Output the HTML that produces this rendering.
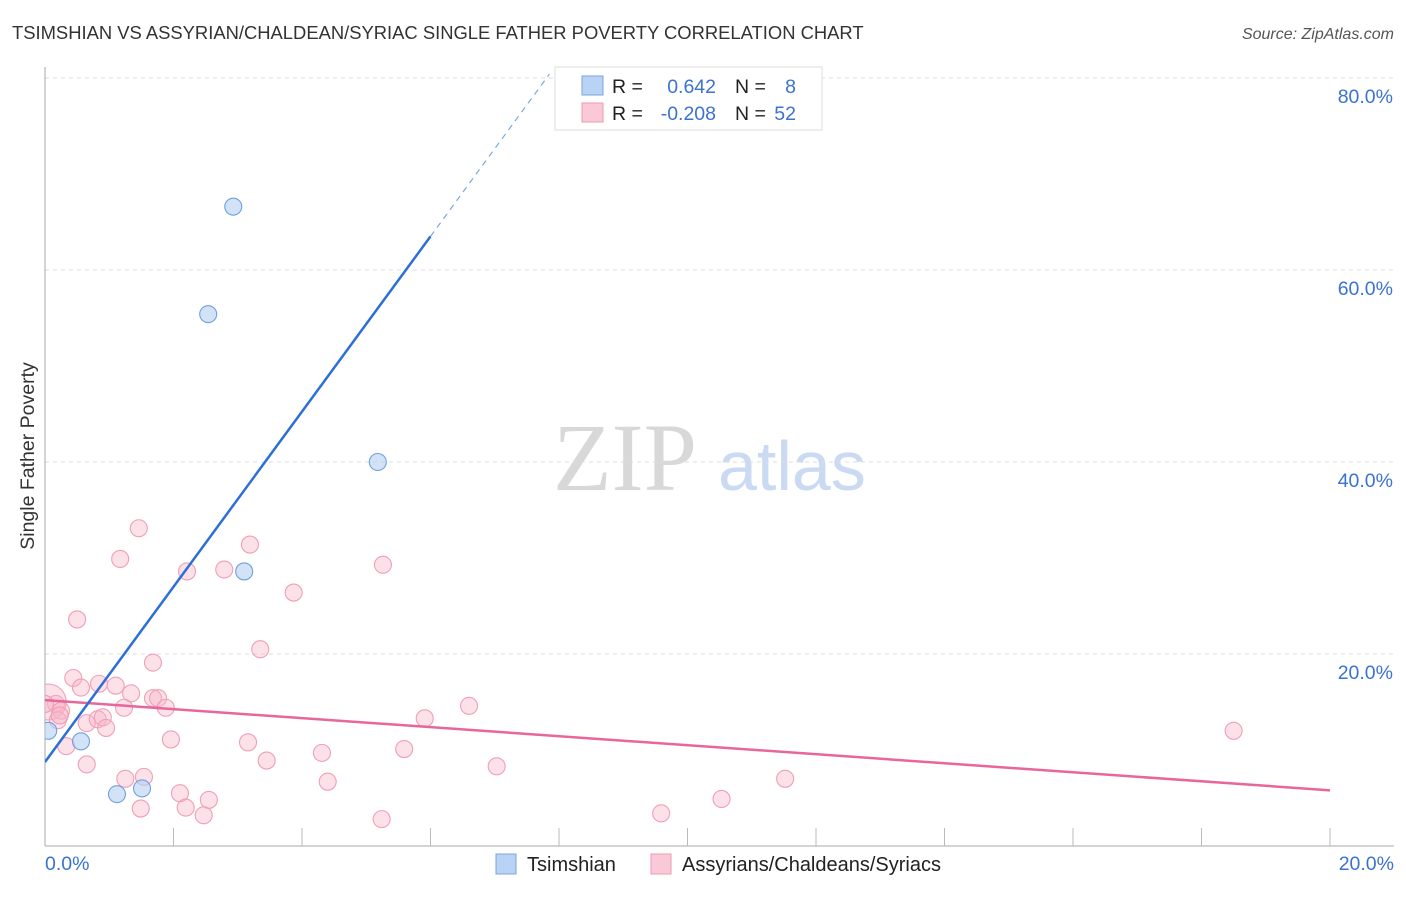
<!DOCTYPE html>
<html><head><meta charset="utf-8"><style>
body{margin:0;background:#fff;font-family:"Liberation Sans",sans-serif;}
</style></head><body>
<svg id="chart" width="1406" height="892" xmlns="http://www.w3.org/2000/svg" font-family="Liberation Sans, sans-serif">
<defs><clipPath id="plotclip"><rect x="45" y="60" width="1360" height="786"/></clipPath></defs>
<text x="12" y="39" font-size="18.4" fill="#333">TSIMSHIAN VS ASSYRIAN/CHALDEAN/SYRIAC SINGLE FATHER POVERTY CORRELATION CHART</text>
<text x="1394" y="39" font-size="16" fill="#555" text-anchor="end" font-style="italic">Source: ZipAtlas.com</text>
<text transform="translate(34,456) rotate(-90)" font-size="19.5" fill="#333" text-anchor="middle">Single Father Poverty</text>
<g>
<text x="553" y="490" font-size="96" fill="#d8d8d8" style="font-family:'Liberation Serif',serif">ZIP</text>
<text x="718" y="490" font-size="70" fill="#c9daf2">atlas</text>
</g>
<g id="grid"></g>
<g id="axes"></g>
<g id="marks" clip-path="url(#plotclip)"></g>
<g>
<rect x="555" y="67" width="267" height="63" fill="#fff" stroke="#ddd"/>
<rect x="582" y="76" width="21" height="19" fill="#b8d3f4" stroke="#7aa6e0"/>
<rect x="582" y="103" width="21" height="19" fill="#fac8d6" stroke="#ee9ab3"/>
<text x="612" y="93" font-size="19.5" fill="#222">R =</text>
<text x="716" y="93" font-size="19.5" fill="#3a73d0" text-anchor="end">0.642</text>
<text x="735" y="93" font-size="19.5" fill="#222">N =</text>
<text x="796" y="93" font-size="19.5" fill="#3a73d0" text-anchor="end">8</text>
<text x="612" y="120" font-size="19.5" fill="#222">R =</text>
<text x="716" y="120" font-size="19.5" fill="#3a73d0" text-anchor="end">-0.208</text>
<text x="735" y="120" font-size="19.5" fill="#222">N =</text>
<text x="796" y="120" font-size="19.5" fill="#3a73d0" text-anchor="end">52</text>
</g>
<g>
<rect x="496" y="854" width="20" height="20" fill="#b8d3f4" stroke="#7aa6e0"/>
<text x="527" y="871" font-size="20" fill="#222">Tsimshian</text>
<rect x="651" y="854" width="20" height="20" fill="#fac8d6" stroke="#ee9ab3"/>
<text x="682" y="871" font-size="20" fill="#222">Assyrians/Chaldeans/Syriacs</text>
</g>
</svg>
<script>
const yTicks=[20,40,60,80];
const xTickLabels=["0.0%","20.0%"];
const blueX=[0.05,0.56,1.12,1.51,3.10,5.18,2.54,2.93];
const blueY=[12.0,10.9,5.4,6.0,28.6,40.0,55.4,66.6];
const pinkX=[1.46,1.17,0.50,2.21,2.79,3.19,5.26,3.87,3.35,1.68,0.44,0.84,0.56,1.10,1.34,1.68,1.76,1.88,1.23,0.17,0.05,0.25,0.20,0.65,0.82,0.90,0.95,0.33,1.96,0.65,3.16,4.31,5.59,5.91,6.60,7.03,3.45,4.40,1.25,1.54,2.10,2.55,2.19,1.49,2.47,5.24,9.59,10.53,11.52,18.50,0.00,0.23];
const pinkY=[33.1,29.9,23.6,28.6,28.8,31.4,29.3,26.4,20.5,19.1,17.5,16.9,16.5,16.7,15.9,15.4,15.4,14.4,14.4,14.8,15.0,14.1,13.1,12.8,13.2,13.4,12.3,10.4,11.1,8.5,10.8,9.7,10.1,13.3,14.6,8.3,8.9,6.7,7.0,7.2,5.5,4.8,4.0,3.9,3.2,2.8,3.4,4.9,7.0,12.0,14.8,13.6];
const pinkR=[8.5,8.5,8.5,8.5,8.5,8.5,8.5,8.5,8.5,8.5,8.5,8.5,8.5,8.5,8.5,8.5,8.5,8.5,8.5,8.5,18,8.5,8.5,8.5,8.5,8.5,8.5,8.5,8.5,8.5,8.5,8.5,8.5,8.5,8.5,8.5,8.5,8.5,8.5,8.5,8.5,8.5,8.5,8.5,8.5,8.5,8.5,8.5,8.5,8.5,8.5,8.5];
const blueLine=[0,8.75,6.0,63.5,7.85,80.4];
const pinkLine=[0,15.2,20,5.8];
const NS="http://www.w3.org/2000/svg";
const X=v=>45+v/20*1285, Y=v=>846-v*9.6;
function mk(tag,attrs,parent){const e=document.createElementNS(NS,tag);for(const k in attrs)e.setAttribute(k,attrs[k]);parent.appendChild(e);return e;}
const grid=document.getElementById('grid'),axes=document.getElementById('axes'),marks=document.getElementById('marks');
yTicks.forEach(t=>{
 const l=mk('line',{x1:45,x2:1394,y1:Y(t),y2:Y(t),stroke:'#ddd','stroke-dasharray':'4,4'},grid);
 
 
 const tx=mk('text',{x:1393,y:Y(t)+25,'font-size':19.5,fill:'#3a73d0','text-anchor':'end'},grid);
 tx.textContent=t.toFixed(1)+'%';
 
 
});
const ya=mk('line',{x1:45,x2:45,y1:67,y2:846,stroke:'#aaa'},axes);


const xa=mk('line',{x1:45,x2:1394,y1:846,y2:846,stroke:'#aaa'},axes);


for(let i=1;i<=10;i++){const t=mk('line',{x1:X(i*2),x2:X(i*2),y1:828,y2:846,stroke:'#bbb'},axes);
 
 }
xTickLabels.forEach((s,i)=>{const t=mk('text',{x:i?1394:45,y:870,'font-size':19.5,fill:'#3a73d0','text-anchor':i?'end':'start'},axes);t.textContent=s;
 
 });
pinkX.forEach((x,i)=>{const c=mk('circle',{cx:X(x),cy:Y(pinkY[i]),r:pinkR[i],fill:'rgba(248,180,200,0.4)',stroke:'#ef9fb8','stroke-width':1.1},marks);
 
 });
blueX.forEach((x,i)=>{const c=mk('circle',{cx:X(x),cy:Y(blueY[i]),r:8.5,fill:'rgba(180,208,244,0.6)',stroke:'#6f9fe0','stroke-width':1.1},marks);
 
 });
const pl=mk('line',{x1:X(pinkLine[0]),y1:Y(pinkLine[1]),x2:X(pinkLine[2]),y2:Y(pinkLine[3]),stroke:'#e8679a','stroke-width':2.5},marks);


const bl=mk('line',{x1:X(blueLine[0]),y1:Y(blueLine[1]),x2:X(blueLine[2]),y2:Y(blueLine[3]),stroke:'#2c6fd6','stroke-width':2.5},marks);


const bd=mk('line',{x1:X(blueLine[2]),y1:Y(blueLine[3]),x2:X(blueLine[4]),y2:Y(blueLine[5]),stroke:'#7aa6e0','stroke-width':1.2,'stroke-dasharray':'6,5'},marks);


</script>
</body></html>
